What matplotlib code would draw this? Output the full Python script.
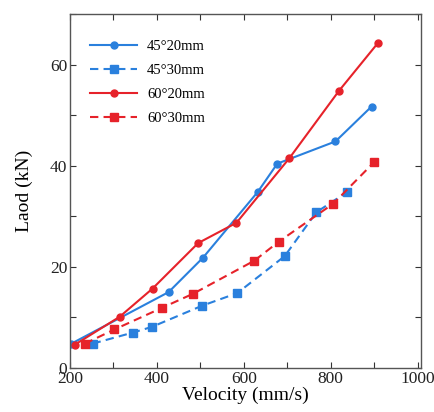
import matplotlib
matplotlib.use("Agg")
import matplotlib.pyplot as plt
from matplotlib.ticker import MultipleLocator, FixedLocator

plt.rcParams['font.family'] = ['Liberation Serif', 'DejaVu Serif']

# 45 deg, 20 mm
v_45_20 = [203, 427, 506, 632, 677, 811, 894]
f_45_20 = [4.8, 15.0, 21.8, 34.8, 40.4, 44.8, 51.7]
# 45 deg, 30 mm
v_45_30 = [252, 345, 388, 504, 585, 694, 767, 838]
f_45_30 = [4.8, 7.0, 8.1, 12.3, 14.8, 22.1, 30.8, 34.8]
# 60 deg, 20 mm
v_60_20 = [211, 314, 390, 495, 583, 705, 819, 909]
f_60_20 = [4.6, 10.1, 15.7, 24.7, 28.7, 41.5, 54.8, 64.3]
# 60 deg, 30 mm
v_60_30 = [234, 302, 412, 484, 624, 681, 806, 900]
f_60_30 = [4.8, 7.6, 11.9, 14.7, 21.2, 25.0, 32.5, 40.7]

labels = ["45\u00b020mm", "45\u00b030mm", "60\u00b020mm", "60\u00b030mm"]

blue = '#2a80dd'
red = '#e6222a'
dash = (0, (4, 2.5))

fig = plt.figure(figsize=(4.35, 4.12), dpi=100)
ax = fig.add_axes([0.161, 0.107, 0.807, 0.859])

ax.plot(v_45_20, f_45_20, color=blue, lw=1.5, marker='o', ms=5, label=labels[0])
ax.plot(v_45_30, f_45_30, color=blue, lw=1.5, ls=dash, marker='s', ms=5.5, label=labels[1])
ax.plot(v_60_20, f_60_20, color=red, lw=1.5, marker='o', ms=5, label=labels[2])
ax.plot(v_60_30, f_60_30, color=red, lw=1.5, ls=dash, marker='s', ms=5.5, label=labels[3])

ax.set_xlim(200, 1008)
ax.set_ylim(0, 70)
ax.xaxis.set_major_locator(FixedLocator([200, 400, 600, 800, 1000]))
ax.xaxis.set_minor_locator(MultipleLocator(100))
ax.yaxis.set_major_locator(FixedLocator([0, 20, 40, 60]))
ax.yaxis.set_minor_locator(MultipleLocator(10))
ax.tick_params(which='both', direction='in', top=True, right=True,
               length=4, width=0.8, colors='#333333', labelsize=12.5, pad=2)
ax.tick_params(labelcolor='#222222')
for s in ax.spines.values():
    s.set_color('#555555')
    s.set_linewidth(1.0)

ax.set_xlabel("Velocity (mm/s)", fontsize=14, labelpad=0)
ax.set_ylabel("Laod (kN)", fontsize=14, labelpad=12)

ax.legend(loc='upper left', frameon=False, fontsize=10.5, handlelength=3.2,
          handletextpad=0.7, labelspacing=0.75, bbox_to_anchor=(0.02, 0.965))

fig.savefig("out.png", dpi=100)
